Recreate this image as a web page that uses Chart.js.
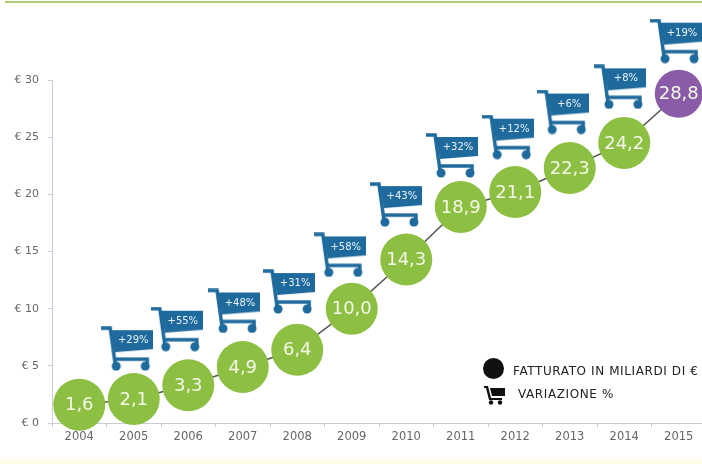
<!DOCTYPE html>
<html>
<head>
<meta charset="utf-8">
<script src="https://cdn.jsdelivr.net/npm/chart.js@4"></script>
<style>
  html, body { margin: 0; width: 702px; height: 464px; overflow: hidden; background: #fff; }
  #wrap { position: relative; width: 712px; height: 464px; filter: blur(0.45px); }
  #topline { position: absolute; left: 5px; top: 1px; width: 697px; height: 2px; background: #b4cc74; }
  #bottomband { position: absolute; left: 0; top: 459px; width: 702px; height: 5px; background: #fdfcea; }
  canvas { position: absolute; left: 0; top: 0; }
  .legend { position: absolute; font: 400 12px "DejaVu Sans", sans-serif; letter-spacing: 0.6px; color: #222; white-space: nowrap; }
  .dot { position: absolute; left: 483px; top: 358px; width: 21px; height: 21px; border-radius: 50%; background: #111; }
</style>
</head>
<body>
<div id="wrap">
  <div id="topline"></div>
  <div id="bottomband"></div>
  <canvas id="chart" width="712" height="464"></canvas>
  <div class="dot"></div>
  <div class="legend" style="left:513px;top:364px">FATTURATO IN MILIARDI DI €</div>
  <svg style="position:absolute;left:484px;top:385px" width="22" height="20" viewBox="0 0 22 20">
    <path d="M0 1h4l3 12h11v2H5L2 3H0z M6 3h15v8H8z" fill="#111"/>
    <circle cx="7" cy="17.5" r="2.2" fill="#111"/><circle cx="16" cy="17.5" r="2.2" fill="#111"/>
  </svg>
  <div class="legend" style="left:518px;top:387px">VARIAZIONE %</div>
</div>
<script>
const years = ["2004", "2005", "2006", "2007", "2008", "2009", "2010", "2011", "2012", "2013", "2014", "2015"];
// circle heights as drawn in the picture; the printed figures are in fatturatoLabels
const fatturato = [1.6, 2.1, 3.3, 4.9, 6.4, 10.0, 14.3, 18.9, 20.2, 22.3, 24.5, 28.8];
const fatturatoLabels = ["1,6", "2,1", "3,3", "4,9", "6,4", "10,0", "14,3", "18,9", "21,1", "22,3", "24,2", "28,8"];
const variazioni = ["+29%", "+55%", "+48%", "+31%", "+58%", "+43%", "+32%", "+12%", "+6%", "+8%", "+19%"];
const cartYears = [2004.88, 2005.79, 2006.84, 2007.85, 2008.78, 2009.81, 2010.84, 2011.87, 2012.88, 2013.92, 2014.95];
const cartLevels = [6.5, 8.2, 9.8, 11.5, 14.7, 19.1, 23.4, 25.0, 27.2, 29.4, 33.4];
const yTicks = [0, 5, 10, 15, 20, 25, 30];

const green = "#8dbf43";
const purple = "#8a5ba6";
const blue = "#1f6a9c";
const axisColor = "#c9ccd6";
const font = '"DejaVu Sans", sans-serif';

// the cart glyph, used as the point style of the second dataset
function makeCart() {
  const c = document.createElement("canvas");
  c.width = 52;
  c.height = 45;
  const g = c.getContext("2d");
  g.fillStyle = blue;
  g.strokeStyle = blue;
  g.lineWidth = 3.5;
  g.beginPath();
  g.moveTo(0, 2);
  g.lineTo(9, 2);
  g.lineTo(14, 38);
  g.moveTo(13, 33);
  g.lineTo(46, 33);
  g.lineTo(46, 38);
  g.stroke();
  g.beginPath();
  g.moveTo(10, 4);
  g.lineTo(52, 4);
  g.lineTo(52, 23);
  g.lineTo(14, 26);
  g.fill();
  g.beginPath();
  g.arc(15, 40, 4.5, 0, Math.PI * 2);
  g.fill();
  g.beginPath();
  g.arc(44, 40, 4.5, 0, Math.PI * 2);
  g.fill();
  return c;
}
const cart = makeCart();

const markerText = {
  id: "markerText",
  afterDatasetsDraw(chart) {
    const ctx = chart.ctx;
    ctx.save();
    ctx.textAlign = "center";
    ctx.textBaseline = "middle";
    ctx.fillStyle = "#f4f8e8";
    chart.getDatasetMeta(0).data.forEach((p, i) => {
      ctx.font = "18px " + font;
      ctx.fillText(fatturatoLabels[i], p.x, p.y + 1);
    });
    ctx.fillStyle = "#e8f2f8";
    chart.getDatasetMeta(1).data.forEach((p, i) => {
      ctx.font = "10px " + font;
      ctx.fillText(variazioni[i], p.x + 6, p.y - 8);
    });
    ctx.restore();
  },
};

new Chart(document.getElementById("chart"), {
  type: "line",
  data: {
    labels: years,
    datasets: [
      {
        data: fatturato,
        borderColor: "#555",
        borderWidth: 1.5,
        pointRadius: fatturato.map((v, i) => (i === 11 ? 24 : 26)),
        pointBackgroundColor: fatturato.map((v, i) => (i === 11 ? purple : green)),
        pointBorderWidth: 0,
        clip: false,
      },
      {
        data: cartYears.map((x, i) => ({ x: x, y: cartLevels[i] })),
        xAxisID: "x2",
        showLine: false,
        pointStyle: cart,
        // radius only widens the in-area test, so the top cart above the axis still draws
        pointRadius: 50,
        clip: false,
      },
    ],
  },
  options: {
    responsive: false,
    animation: false,
    layout: { autoPadding: false, padding: { left: 0, right: 6, top: 80, bottom: 21 } },
    plugins: { legend: { display: false }, tooltip: { enabled: false } },
    scales: {
      x: {
        offset: true,
        afterFit: (axis) => { axis.paddingLeft = 0; axis.paddingRight = 0; axis.height = 20; },
        grid: { drawOnChartArea: false, offset: true, tickLength: 4, color: axisColor },
        border: { color: axisColor },
        ticks: { color: "#666", font: { family: font, size: 11.5 }, padding: 3, maxRotation: 0, autoSkip: false },
      },
      x2: { type: "linear", display: false, min: 2003.5, max: 2015.5, ticks: { display: false } },
      y: {
        min: 0,
        max: 30,
        afterBuildTicks: (axis) => { axis.ticks = yTicks.map((v) => ({ value: v })); },
        afterFit: (axis) => { axis.width = 52; },
        grid: { drawOnChartArea: false, tickLength: 4, color: axisColor },
        border: { color: axisColor },
        ticks: { color: "#666", font: { family: font, size: 11 }, padding: 9, callback: (v) => "€ " + v },
      },
    },
  },
  plugins: [markerText],
});
</script>
</body>
</html>
